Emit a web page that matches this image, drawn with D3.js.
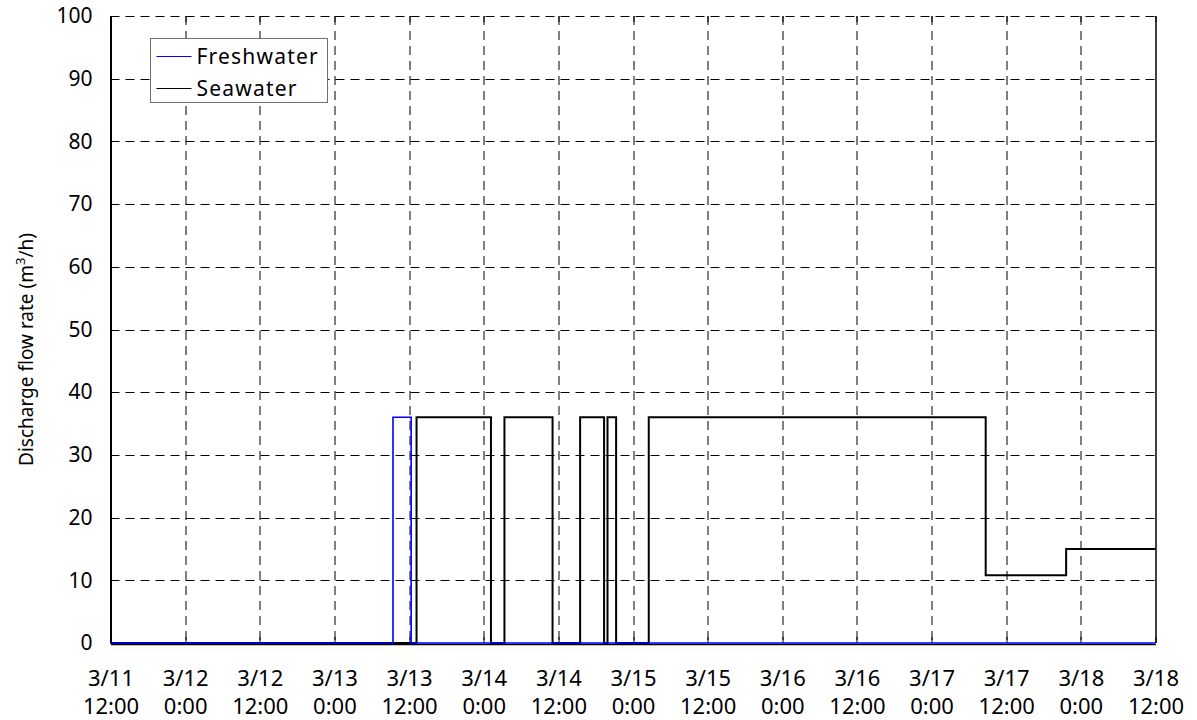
<!DOCTYPE html>
<html>
<head>
<meta charset="utf-8">
<script src="https://cdn.jsdelivr.net/npm/d3@7"></script>
<style>
  body { margin: 0; background: #fff; }
  text { font-family: "Noto Sans", "DejaVu Sans", sans-serif; fill: #000; }
</style>
</head>
<body>
<div id="chart"></div>
<script>
'use strict';

var outerWidth = 1197;
var outerHeight = 720;
var margin = {left: 110.5, right: 41.5, top: 16, bottom: 77};

// step data: time the value starts, and the value
var freshTimes  = ['2011-03-11 12:00', '2011-03-13 09:25', '2011-03-13 12:20', '2011-03-18 12:00'];
var freshValues = [0, 36, 0, 0];

var seaTimes  = ['2011-03-11 12:00', '2011-03-13 13:12', '2011-03-14 01:10', '2011-03-14 03:20',
                 '2011-03-14 11:04', '2011-03-14 15:30', '2011-03-14 19:21', '2011-03-14 19:54',
                 '2011-03-14 21:17', '2011-03-15 02:32', '2011-03-17 08:42', '2011-03-17 21:38',
                 '2011-03-18 12:00'];
var seaValues = [0, 36, 0, 36, 0, 36, 0, 36, 0, 36, 10.8, 15, 15];

var yTicks = [0, 10, 20, 30, 40, 50, 60, 70, 80, 90, 100];
var xTickTimes = ['2011-03-11 12:00', '2011-03-12 00:00', '2011-03-12 12:00', '2011-03-13 00:00',
                  '2011-03-13 12:00', '2011-03-14 00:00', '2011-03-14 12:00', '2011-03-15 00:00',
                  '2011-03-15 12:00', '2011-03-16 00:00', '2011-03-16 12:00', '2011-03-17 00:00',
                  '2011-03-17 12:00', '2011-03-18 00:00', '2011-03-18 12:00'];
var xTickLabels = [['3/11', '12:00'], ['3/12', '0:00'], ['3/12', '12:00'], ['3/13', '0:00'],
                   ['3/13', '12:00'], ['3/14', '0:00'], ['3/14', '12:00'], ['3/15', '0:00'],
                   ['3/15', '12:00'], ['3/16', '0:00'], ['3/16', '12:00'], ['3/17', '0:00'],
                   ['3/17', '12:00'], ['3/18', '0:00'], ['3/18', '12:00']];

var parse = d3.timeParse('%Y-%m-%d %H:%M');

var width = outerWidth - margin.left - margin.right;
var height = outerHeight - margin.top - margin.bottom;

var svg = d3.select('#chart').append('svg')
  .attr('width', outerWidth)
  .attr('height', outerHeight);

var g = svg.append('g')
  .attr('transform', 'translate(' + margin.left + ',' + margin.top + ')');

var xScale = d3.scaleTime()
  .domain([parse(xTickTimes[0]), parse(xTickTimes[xTickTimes.length - 1])])
  .range([0, width]);

var yScale = d3.scaleLinear()
  .domain([0, 100])
  .range([height, 0]);

var xTicks = xTickTimes.map(parse);

//dashed grid
g.append('g').selectAll('line.vg')
  .data(xTicks.slice(1, -1))
  .enter().append('line')
  .attr('x1', function(d){ return Math.round(xScale(d)) + 0.5; })
  .attr('x2', function(d){ return Math.round(xScale(d)) + 0.5; })
  .attr('y1', 0).attr('y2', height)
  .attr('stroke', '#000').attr('stroke-width', 1)
  .attr('stroke-dasharray', '9,6');

g.append('g').selectAll('line.hg')
  .data(yTicks.slice(1))
  .enter().append('line')
  .attr('x1', 0).attr('x2', width)
  .attr('y1', function(d){ return Math.round(yScale(d)) + 0.5; })
  .attr('y2', function(d){ return Math.round(yScale(d)) + 0.5; })
  .attr('stroke', '#000').attr('stroke-width', 1)
  .attr('stroke-dasharray', '9,6');

//small inward ticks top and bottom
g.append('g').selectAll('line')
  .data(xTicks)
  .enter().append('line')
  .attr('x1', function(d){ return Math.round(xScale(d)) + 0.5; })
  .attr('x2', function(d){ return Math.round(xScale(d)) + 0.5; })
  .attr('y1', height).attr('y2', height - 6)
  .attr('stroke', '#000');
g.append('g').selectAll('line')
  .data(xTicks)
  .enter().append('line')
  .attr('x1', function(d){ return Math.round(xScale(d)) + 0.5; })
  .attr('x2', function(d){ return Math.round(xScale(d)) + 0.5; })
  .attr('y1', 0).attr('y2', 6)
  .attr('stroke', '#000');

//right border solid
g.append('line')
  .attr('x1', width + 0.5).attr('x2', width + 0.5)
  .attr('y1', 0).attr('y2', height)
  .attr('stroke', '#000').attr('stroke-width', 1.5);

//left and bottom axes (drawn under the series)
var yAxis = d3.axisLeft(yScale).tickValues(yTicks).tickSize(0).tickPadding(18);
var yG = g.append('g').call(yAxis);
yG.select('.domain').attr('stroke', '#000').attr('stroke-width', 2);
yG.selectAll('text').style('font-size', '21px')
  .style('font-family', '"Noto Sans", sans-serif');

var xAxis = d3.axisBottom(xScale).tickValues(xTicks).tickSize(0).tickFormat('');
var xG = g.append('g').attr('transform', 'translate(0,' + (height + 1) + ')').call(xAxis);
xG.select('.domain').attr('stroke', '#000').attr('stroke-width', 1.5);

xG.selectAll('.tick').each(function(d, i){
  var t = d3.select(this).select('text')
    .attr('y', 0).attr('dy', null)
    .style('font-size', '22px')
    .style('font-family', '"Noto Sans", sans-serif');
  t.append('tspan').attr('x', 0).attr('y', 42).text(xTickLabels[i][0]);
  t.append('tspan').attr('x', 0).attr('y', 70).text(xTickLabels[i][1]);
});

//series lines
var line = d3.line()
  .curve(d3.curveStepAfter)
  .x(function(d){ return xScale(d.t); })
  .y(function(d){ return yScale(d.v); });

var seaData = seaTimes.map(function(t, i){ return {t: parse(t), v: seaValues[i]}; });
var freshData = freshTimes.map(function(t, i){ return {t: parse(t), v: freshValues[i]}; });

g.append('path')
  .datum(seaData)
  .attr('d', line)
  .attr('fill', 'none')
  .attr('stroke', '#000')
  .attr('stroke-width', 2);

g.append('path')
  .datum(freshData)
  .attr('d', line)
  .attr('fill', 'none')
  .attr('stroke', '#0000ff')
  .attr('stroke-width', 1.6);

//y title
var title = svg.append('text')
  .attr('transform', 'translate(33,' + (margin.top + height / 2 + 20) + ') rotate(-90)')
  .attr('text-anchor', 'middle')
  .style('font-size', '19px');
title.append('tspan').text('Discharge flow rate (m');
title.append('tspan').attr('dy', -8).style('font-size', '13px').text('3');
title.append('tspan').attr('dy', 8).text('/h)');

//legend
var legend = svg.append('g').attr('transform', 'translate(150.5,38.5)');
legend.append('rect')
  .attr('width', 177).attr('height', 64)
  .attr('fill', '#fff').attr('stroke', '#707070').attr('stroke-width', 1);

var legendItems = [{name: 'Freshwater', color: '#0000ff'}, {name: 'Seawater', color: '#000'}];
legendItems.forEach(function(d, i){
  var y = 18 + i * 32;
  legend.append('line')
    .attr('x1', 6).attr('x2', 41).attr('y1', y).attr('y2', y)
    .attr('stroke', d.color).attr('stroke-width', 1.2);
  legend.append('text')
    .attr('x', 46).attr('y', y).attr('dy', '0.35em')
    .style('font-size', '21px')
    .style('letter-spacing', '1.2px')
    .text(d.name);
});
</script>
</body>
</html>
